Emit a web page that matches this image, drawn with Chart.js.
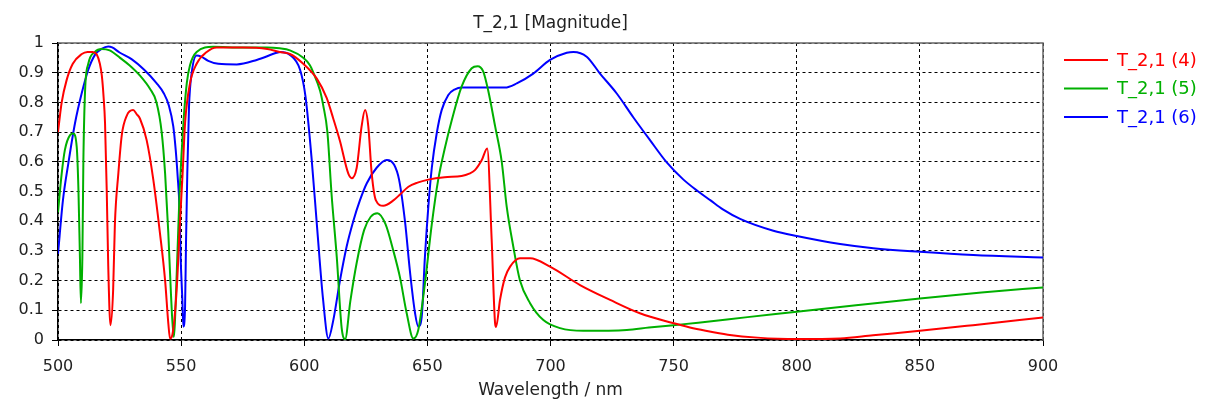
<!DOCTYPE html>
<html>
<head>
<meta charset="utf-8">
<title>T_2,1 [Magnitude]</title>
<script src="https://cdn.jsdelivr.net/npm/chart.js@4.4.1/dist/chart.umd.min.js"></script>
<style>
    html, body {
        margin: 0;
        padding: 0;
        background: #ffffff;
    }

    #chart-box {
        width: 1206px;
        height: 405px;
    }
</style>
</head>
<body>

<div id="chart-box">
    <canvas id="t21Chart" width="1206" height="405"></canvas>
</div>

<script>
/* ==========================================
   DATA
========================================== */

const seriesNames = ["T_2,1 (4)", "T_2,1 (5)", "T_2,1 (6)"];
const seriesColors = ["#ff0000", "#00b000", "#0000ff"];

const xTicks = [500, 550, 600, 650, 700, 750, 800, 850, 900];
const yTicks = [0, 0.1, 0.2, 0.3, 0.4, 0.5, 0.6, 0.7, 0.8, 0.9, 1];

// T_2,1 (4)
const wavelength4 = [
    500, 501.5, 503.5, 506, 509.5, 512, 514, 515.7, 517, 517.8,
    518.5, 519.1, 519.8, 520.4, 521.3, 522.4, 523.1, 524.5, 525.9, 527.9,
    530.5, 532, 533.3, 536, 538.7, 541.4, 543.5, 544.8, 545.5, 546.5,
    548.2, 549.5, 550.6, 551.6, 553.6, 556.3, 560.4, 564.4, 575, 585,
    590, 594.2, 599.6, 605.1, 609.1, 611.8, 614.5, 617.9, 619.3, 621.3,
    623.3, 624.7, 626, 627.4, 629.1, 632.1, 636.2, 638.9, 642.3, 646,
    650.4, 657, 663.9, 667, 669.3, 672.1, 674.3, 676.1, 677.5, 677.9,
    679.5, 681.5, 683.6, 687.6, 691.7, 699.8, 712, 724.2, 736.3, 749.7,
    756.6, 763, 772, 784, 800, 817.6, 831, 850, 871.6, 900
];
const magnitude4 = [
    0.70, 0.80, 0.875, 0.93, 0.962, 0.970, 0.970, 0.962, 0.93, 0.89,
    0.82, 0.73, 0.50, 0.25, 0.05, 0.17, 0.39, 0.56, 0.69, 0.755,
    0.774, 0.76, 0.745, 0.673, 0.54, 0.36, 0.20, 0.056, 0.005, 0.02,
    0.17, 0.39, 0.56, 0.73, 0.864, 0.93, 0.97, 0.985, 0.985, 0.98,
    0.97, 0.963, 0.93, 0.88, 0.815, 0.745, 0.67, 0.56, 0.545, 0.58,
    0.72, 0.774, 0.72, 0.56, 0.47, 0.452, 0.47, 0.49, 0.516, 0.53,
    0.54, 0.548, 0.552, 0.56, 0.572, 0.606, 0.645, 0.34, 0.056, 0.044,
    0.135, 0.21, 0.247, 0.275, 0.275, 0.247, 0.185, 0.135, 0.09, 0.057,
    0.042, 0.031, 0.018, 0.008, 0.003, 0.005, 0.016, 0.031, 0.05, 0.076
];

// T_2,1 (5)
const wavelength5 = [
    500, 501.5, 502.8, 504.9, 506.2, 507.6, 508.3, 508.9, 509.3, 509.9,
    510.3, 511, 512.3, 515, 517.7, 521, 525.2, 529, 533.3, 537.4,
    540, 542.1, 543.5, 544.8, 545.9, 547, 548.2, 549.3, 550.2, 551,
    552.3, 553.6, 556.3, 563, 575, 585, 590, 594.2, 599.6, 602.3,
    603.7, 606.4, 607.7, 609.4, 611.1, 613.2, 615.2, 616.6, 618.7, 621.3,
    624.3, 627, 629.7, 633, 636.2, 638.9, 641.6, 644.3, 646.3, 649,
    651.8, 654.4, 657.2, 659.9, 663.9, 668, 670.4, 672.7, 674.7, 677.5,
    680.2, 682.2, 684.9, 687.6, 691.7, 697.1, 703.9, 713.3, 731, 740,
    750, 760, 780, 800, 825, 850, 875, 900
];
const magnitude5 = [
    0.43, 0.56, 0.64, 0.69, 0.695, 0.65, 0.505, 0.28, 0.124, 0.28,
    0.60, 0.84, 0.93, 0.97, 0.98, 0.975, 0.95, 0.925, 0.89, 0.845,
    0.80, 0.70, 0.56, 0.36, 0.15, 0.01, 0.22, 0.48, 0.63, 0.74,
    0.865, 0.925, 0.97, 0.987, 0.985, 0.985, 0.982, 0.975, 0.95, 0.925,
    0.90, 0.84, 0.79, 0.70, 0.49, 0.28, 0.04, 0.003, 0.13, 0.26,
    0.37, 0.415, 0.427, 0.39, 0.30, 0.21, 0.09, 0.005, 0.034, 0.19,
    0.39, 0.54, 0.65, 0.74, 0.853, 0.915, 0.922, 0.904, 0.84, 0.72,
    0.60, 0.45, 0.314, 0.20, 0.124, 0.067, 0.04, 0.031, 0.034, 0.042,
    0.05, 0.058, 0.077, 0.095, 0.118, 0.14, 0.16, 0.177
];

// T_2,1 (6)
const wavelength6 = [
    500, 502, 504.2, 506.9, 509.6, 512.3, 515, 517.7, 520.4, 522,
    525, 530, 535, 540, 543, 545, 546.8, 547.8, 548.6,
    549.3, 549.8, 550.5, 550.9, 551.6, 552, 552.5, 553.2, 554.3,
    556.3, 558, 561, 565.1, 572.6, 580.7, 588.8, 590.2, 594.2, 598.3,
    600.5, 603, 605.3, 607.6, 609.8, 611.8, 614.5, 617.2, 619.9, 622.6,
    625.4, 629.4, 633.5, 636.5, 638.5, 640.9, 643, 645, 646.3, 647.7,
    649, 650.4, 651.8, 653.8, 655.8, 658.5, 661.2, 663.9, 681.5, 686.3,
    693, 699.8, 706.6, 709.3, 714.7, 720.1, 726.9, 733.6, 740.4, 747.2,
    754, 760, 765, 770, 777, 790.5, 800, 817.6, 831.1, 850, 871.7,
    900
];
const magnitude6 = [
    0.29, 0.47, 0.595, 0.73, 0.83, 0.91, 0.96, 0.98, 0.988, 0.985,
    0.968, 0.945, 0.91, 0.865, 0.83, 0.79, 0.72, 0.64, 0.55,
    0.45, 0.28, 0.135, 0.045, 0.11, 0.337, 0.56, 0.785, 0.90,
    0.958, 0.955, 0.94, 0.93, 0.928, 0.943, 0.967, 0.97, 0.96, 0.91,
    0.82, 0.61, 0.37, 0.14, 0.005, 0.067, 0.20, 0.314, 0.40, 0.47,
    0.528, 0.58, 0.606, 0.59, 0.54, 0.40, 0.225, 0.09, 0.045, 0.078,
    0.28, 0.45, 0.58, 0.696, 0.774, 0.825, 0.844, 0.85, 0.85, 0.864,
    0.897, 0.943, 0.967, 0.97, 0.954, 0.897, 0.83, 0.75, 0.673, 0.598,
    0.54, 0.50, 0.47, 0.44, 0.408, 0.368, 0.35, 0.323, 0.309, 0.297, 0.286,
    0.278
];

/* ==========================================
   HELPERS
========================================== */

const FONT_FAMILY = "'DejaVu Sans', Verdana, sans-serif";
const TEXT_COLOR = "#222222";

function toPoints(xs, ys) {
    return xs.map((x, i) => ({ x: x, y: ys[i] }));
}

function makeDataset(index, xs, ys) {
    return {
        label: seriesNames[index],
        data: toPoints(xs, ys),
        borderColor: seriesColors[index],
        backgroundColor: seriesColors[index],
        borderWidth: 2,
        pointRadius: 0,
        showLine: true,
        fill: false,
        cubicInterpolationMode: "monotone"
    };
}

/* ==========================================
   FRAME + LEGEND PLUGINS
========================================== */

const plotFrame = {
    id: "plotFrame",
    beforeDatasetsDraw(chart) {
        const { ctx, chartArea } = chart;
        ctx.save();
        ctx.strokeStyle = "#666666";
        ctx.lineWidth = 1.5;
        ctx.beginPath();
        ctx.moveTo(chartArea.left, chartArea.top);
        ctx.lineTo(chartArea.right, chartArea.top);
        ctx.lineTo(chartArea.right, chartArea.bottom);
        ctx.stroke();
        ctx.restore();
    }
};

const sideLegend = {
    id: "sideLegend",
    afterDraw(chart) {
        const ctx = chart.ctx;
        const lineStart = 1064;
        const lineEnd = 1108;
        const textX = 1117;

        ctx.save();
        ctx.font = "18px " + FONT_FAMILY;
        ctx.textBaseline = "middle";
        ctx.textAlign = "left";

        chart.data.datasets.forEach((ds, i) => {
            const y = 60 + i * 28.5;

            ctx.strokeStyle = ds.borderColor;
            ctx.lineWidth = 2;
            ctx.beginPath();
            ctx.moveTo(lineStart, y);
            ctx.lineTo(lineEnd, y);
            ctx.stroke();

            ctx.fillStyle = ds.borderColor;
            ctx.fillText(ds.label, textX, y + 1);
        });

        ctx.restore();
    }
};

/* ==========================================
   CHART
========================================== */

function initializeChart() {
    const canvas = document.getElementById("t21Chart");

    if (!canvas) return;

    new Chart(canvas, {
        type: "scatter",

        data: {
            datasets: [
                makeDataset(0, wavelength4, magnitude4),
                makeDataset(1, wavelength5, magnitude5),
                makeDataset(2, wavelength6, magnitude6)
            ]
        },

        plugins: [plotFrame, sideLegend],

        options: {
            responsive: false,
            animation: false,
            devicePixelRatio: 1,

            layout: {
                padding: { left: 0, right: 163, top: 0, bottom: 0 }
            },

            plugins: {
                legend: { display: false },
                tooltip: { enabled: false },

                title: {
                    display: true,
                    fullSize: false,
                    text: "T_2,1 [Magnitude]",
                    color: TEXT_COLOR,
                    font: { family: FONT_FAMILY, size: 17, weight: "normal", lineHeight: 18 / 17 },
                    padding: { top: 15, bottom: 10 }
                }
            },

            scales: {
                x: {
                    type: "linear",
                    min: xTicks[0],
                    max: xTicks[xTicks.length - 1],
                    afterBuildTicks: scale => {
                        scale.ticks = xTicks.map(v => ({ value: v }));
                    },
                    afterFit: scale => {
                        scale.height = 65;
                    },
                    ticks: {
                        color: TEXT_COLOR,
                        font: { family: FONT_FAMILY, size: 16 },
                        padding: 11,
                        maxRotation: 0
                    },
                    grid: {
                        color: "#000000",
                        lineWidth: 1,
                        tickLength: 6,
                        tickColor: "#000000",
                        tickBorderDash: []
                    },
                    border: {
                        display: true,
                        color: "#000000",
                        width: 1.5,
                        dash: [3, 3]
                    },
                    title: {
                        display: true,
                        text: "Wavelength / nm",
                        color: TEXT_COLOR,
                        font: { family: FONT_FAMILY, size: 17, lineHeight: 18 / 17 },
                        padding: { top: 0, bottom: 5 }
                    }
                },

                y: {
                    type: "linear",
                    min: yTicks[0],
                    max: yTicks[yTicks.length - 1],
                    afterBuildTicks: scale => {
                        scale.ticks = yTicks.map(v => ({ value: v }));
                    },
                    afterFit: scale => {
                        scale.width = 58;
                    },
                    ticks: {
                        color: TEXT_COLOR,
                        font: { family: FONT_FAMILY, size: 16 },
                        padding: 8,
                        callback: v => (v === 0 || v === 1) ? String(v) : v.toFixed(1)
                    },
                    grid: {
                        color: "#000000",
                        lineWidth: 1,
                        tickLength: 6,
                        tickColor: "#000000",
                        tickBorderDash: []
                    },
                    border: {
                        display: true,
                        color: "#000000",
                        width: 1.5,
                        dash: [3, 3]
                    }
                }
            }
        }
    });
}

document.addEventListener("DOMContentLoaded", () => {
    initializeChart();
});
</script>
</body>
</html>
